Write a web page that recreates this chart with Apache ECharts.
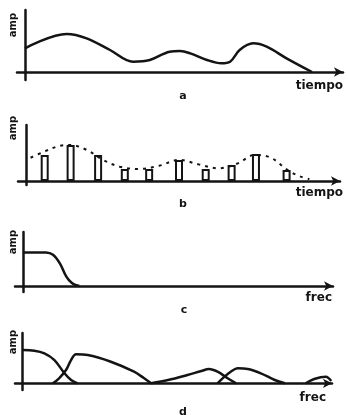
<!DOCTYPE html>
<html>
<head>
<meta charset="utf-8">
<script src="https://cdn.jsdelivr.net/npm/echarts@6/dist/echarts.min.js"></script>
<style>
  html, body { margin: 0; padding: 0; background: #fff; }
  #chart { width: 348px; height: 418px; }
</style>
</head>
<body>
<div id="chart"></div>
<script>
// panel a: continuous signal in time
const signalA = [[0, 2.96], [5.25, 4.75], [7.76, 4.21], [10.7, 2.75], [13.6, 1.29], [15.7, 1.5], [18.2, 2.54],
  [19.5, 2.63], [20.8, 2.33], [22.9, 1.5], [24.7, 1.09], [25.8, 1.29], [27.0, 2.75], [28.7, 3.58],
  [30.4, 3.16], [32.9, 1.71], [36.1, 0]]
// panel b: sampled signal (dashed envelope + pulses)
const envelopeB = [[0.6, 2.91], [2.3, 3.66], [4.4, 4.41], [5.66, 4.5], [7.76, 3.88], [9.84, 2.63], [11.95, 1.79],
  [14.5, 1.5], [17.0, 1.91], [19.5, 2.63], [22.0, 2.08], [24.5, 1.58], [27.0, 2.21], [29.1, 3.25],
  [31.2, 2.91], [33.3, 1.38], [35.0, 0.54], [36.1, 0.25]]
const samplesB = [[2.4, 3.25], [5.7, 4.5], [9.2, 3.25], [12.6, 1.5], [15.7, 1.5], [19.5, 2.63], [22.9, 1.5],
  [26.2, 2.0], [29.3, 3.38], [33.2, 1.38]]
// panel c: spectrum
const spectrumC = [[0, 4.2], [3.0, 4.2], [3.9, 3.9], [4.8, 2.8], [5.6, 1.2], [6.3, 0.4], [6.9, 0.1], [7.3, 0]]
// panel d: replicated spectra
const spectrumD1 = [[0, 4.16], [1.5, 4.08], [2.8, 3.75], [4.1, 2.91], [5.4, 1.25], [6.25, 0.41], [7.1, 0]]
const spectrumD2 = [[3.9, 0], [4.7, 0.63], [5.6, 1.66], [6.25, 2.91], [6.9, 3.63], [8.4, 3.54], [11.4, 2.7],
  [14.4, 1.45], [15.7, 0.63], [16.6, 0]]
const spectrumD3 = [[16.6, 0], [18.8, 0.41], [21.3, 1.04], [23.1, 1.54], [24.1, 1.79], [25.2, 1.45], [26.5, 0.63], [27.6, 0]]
const spectrumD4 = [[25.2, 0], [26.1, 0.83], [26.9, 1.45], [27.8, 1.87], [29.1, 1.79], [30.8, 1.25], [32.6, 0.41], [33.9, 0]]
const spectrumD5 = [[36.6, 0], [37.7, 0.54], [39.2, 0.83], [39.9, 0.3]]

const ink = '#141414'
const font = 'DejaVu Sans'

const panels = [
  { left: 17, width: 326, top: 10, height: 70, yMin: -1, yMax: 7.75 },
  { left: 18, width: 322, top: 125, height: 60, yMin: -0.5, yMax: 7 },
  { left: 15, width: 318, top: 232, height: 60, yMin: -0.75, yMax: 6.75 },
  { left: 15, width: 317, top: 333, height: 57, yMin: -0.84, yMax: 6.3 }
]

const chart = echarts.init(document.getElementById('chart'))

const axisLine = (arrow) => ({
  onZero: true,
  symbol: arrow ? ['none', 'arrow'] : 'none',
  symbolSize: [7, 9],
  lineStyle: { color: ink, width: 2.5 }
})

const curve = (idx, data, dashed) => ({
  type: 'line',
  xAxisIndex: idx,
  yAxisIndex: idx,
  data,
  smooth: 0.35,
  symbol: 'none',
  lineStyle: { color: ink, width: dashed ? 2 : 2.5, type: dashed ? [3, 5] : 'solid' },
  z: 3
})

const label = (x, y, text, size, opts = {}) => ({
  type: 'text',
  x, y,
  rotation: opts.rotation || 0,
  style: {
    text,
    fill: ink,
    font: `bold ${size}px "${font}"`,
    align: opts.align || 'center',
    verticalAlign: 'middle'
  }
})

chart.setOption({
  backgroundColor: '#fff',
  animation: false,
  grid: panels.map(p => ({ left: p.left, width: p.width, top: p.top, height: p.height })),
  xAxis: panels.map((p, i) => ({
    type: 'value', gridIndex: i, min: -1, max: 40,
    axisLine: axisLine(true), axisTick: { show: false }, axisLabel: { show: false }, splitLine: { show: false }
  })),
  yAxis: panels.map((p, i) => ({
    type: 'value', gridIndex: i, min: p.yMin, max: p.yMax,
    axisLine: axisLine(false), axisTick: { show: false }, axisLabel: { show: false }, splitLine: { show: false }
  })),
  series: [
    curve(0, signalA),
    curve(1, envelopeB, true),
    {
      type: 'bar',
      xAxisIndex: 1,
      yAxisIndex: 1,
      data: samplesB,
      barWidth: 8,
      itemStyle: { color: 'rgba(0,0,0,0)', borderColor: ink, borderWidth: 2 },
      z: 2
    },
    curve(2, spectrumC),
    curve(3, spectrumD1),
    curve(3, spectrumD2),
    curve(3, spectrumD3),
    curve(3, spectrumD4),
    curve(3, spectrumD5)
  ],
  graphic: [
    label(13, 25, 'amp', 10, { rotation: Math.PI / 2 }),
    label(13, 128, 'amp', 10, { rotation: Math.PI / 2 }),
    label(13, 242, 'amp', 10, { rotation: Math.PI / 2 }),
    label(13, 342, 'amp', 10, { rotation: Math.PI / 2 }),
    label(343, 86, 'tiempo', 12, { align: 'right' }),
    label(343, 193, 'tiempo', 12, { align: 'right' }),
    label(332, 298, 'frec', 12, { align: 'right' }),
    label(326, 398, 'frec', 12, { align: 'right' }),
    label(183, 96, 'a', 11),
    label(183, 204, 'b', 11),
    label(184, 310, 'c', 11),
    label(183, 412, 'd', 11)
  ]
})
</script>
</body>
</html>
